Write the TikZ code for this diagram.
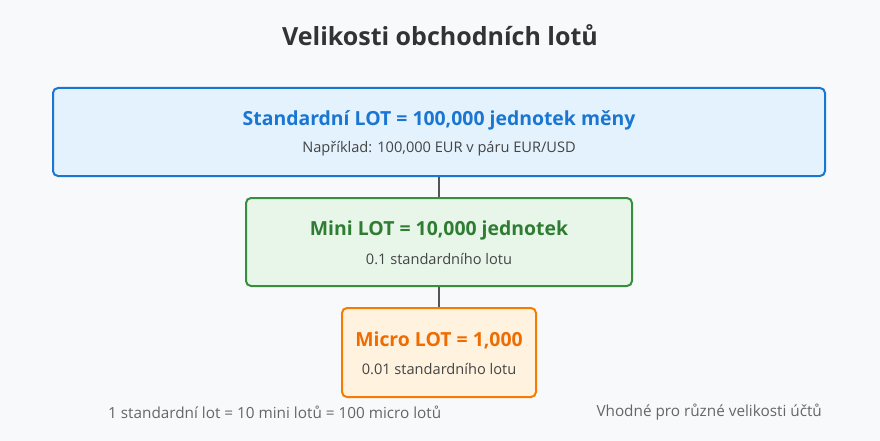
\documentclass[tikz,border=0pt]{standalone}
\usepackage{fontspec}
\setmainfont{Open Sans}
\usepackage{xcolor}
\usetikzlibrary{calc}

\definecolor{bgcol}{HTML}{F8F9FA}
\definecolor{titlecol}{HTML}{333333}
\definecolor{subcol}{HTML}{444444}
\definecolor{notecol}{HTML}{666666}
\definecolor{linecol}{HTML}{555555}
\definecolor{stdfill}{HTML}{E3F2FD}
\definecolor{stdline}{HTML}{1976D2}
\definecolor{stdtext}{HTML}{1976D2}
\definecolor{minifill}{HTML}{E8F5E9}
\definecolor{miniline}{HTML}{388E3C}
\definecolor{minitext}{HTML}{2E7D32}
\definecolor{microfill}{HTML}{FFF3E0}
\definecolor{microline}{HTML}{F57C00}
\definecolor{microtext}{HTML}{EF6C00}

\begin{document}
\begin{tikzpicture}[x=1pt, y=-1pt,
        lotbox/.style={draw, rounded corners=5pt, line width=2pt, inner sep=0},
        lothead/.style={font=\fontsize{19.4}{22}\selectfont\bfseries, inner sep=0},
        lotsub/.style={font=\fontsize{14.6}{17}\selectfont, text=subcol, inner sep=0},
        note/.style={font=\fontsize{15.3}{17}\selectfont, text=notecol, inner sep=0}]
        % background and page size
        \fill[bgcol] (0,0) rectangle (880,441);
        \useasboundingbox (0,0) rectangle (880,441);
        \node[font=\fontsize{25}{28}\selectfont\bfseries, text=titlecol, inner sep=0] (title) at (440,35) {Velikosti obchodních lotů};
        % the three boxes
        \node[lotbox, fill=stdfill, draw=stdline, minimum width=772pt, minimum height=88pt] (std) at (439,132) {};
        \node[lotbox, fill=minifill, draw=miniline, minimum width=386pt, minimum height=88pt] (mini) at (439,242) {};
        \node[lotbox, fill=microfill, draw=microline, minimum width=194pt, minimum height=89pt] (micro) at (439,352.5) {};
        \node[lothead, text=stdtext] (stdhead) at (439,120) {Standardní LOT = 100,000 jednotek měny};
        \node[lotsub] (stdsub) at (439,149) {Například: 100,000 EUR v páru EUR/USD};
        \node[lothead, text=minitext] (minihead) at (439,230) {Mini LOT = 10,000 jednotek};
        \node[lotsub] (minisub) at (439,259) {0.1 standardního lotu};
        \node[lothead, text=microtext] (microhead) at (439,340) {Micro LOT = 1,000};
        \node[lotsub] (microsub) at (439,369) {0.01 standardního lotu};
        % links
        \draw[linecol, line width=2pt] (std.south) -- (mini.north);
        \draw[linecol, line width=2pt] (mini.south) -- (micro.north);
        % notes at the bottom
        \node[note, anchor=west] (ratio) at (108,412) {1 standardní lot = 10 mini lotů = 100 micro lotů};
        \node[note, anchor=east] (fit) at (822,412) {Vhodné pro různé velikosti účtů};
    \end{tikzpicture}
\end{document}
